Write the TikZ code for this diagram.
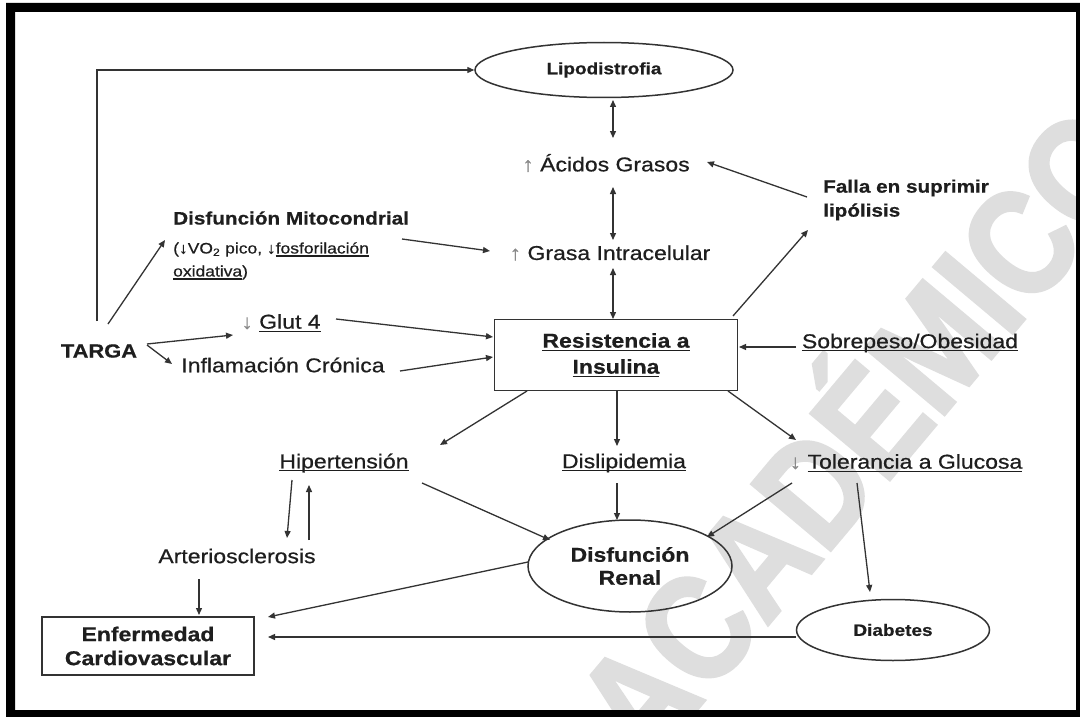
\documentclass[tikz,border=0pt]{standalone}
\usepackage{fontspec}
\setmainfont{Liberation Sans}[FakeStretch=1.15,FakeBold=0.6]
\newfontfamily\wmfont{Liberation Sans}[FakeStretch=0.85,FakeBold=2]
\usetikzlibrary{arrows.meta,shapes.geometric}
\definecolor{txt}{HTML}{1E1E1E}
\definecolor{ln}{HTML}{333333}
\definecolor{wm}{HTML}{DEDEDE}
\definecolor{arrg}{HTML}{8A8A8A}
\newcommand\ulin[1]{\setbox0\hbox{#1}\rlap{\rule[-3.2pt]{\wd0}{1.2pt}}\box0}
\newcommand\upar{{\color{arrg}↑}}
\newcommand\dnar{{\color{arrg}↓}}
\tikzset{
  lbl/.style={text=txt,inner sep=2pt,font=\fontsize{20}{24}\selectfont},
  blbl/.style={text=txt,inner sep=2pt,font=\fontsize{20}{24}\selectfont\bfseries},
  arr/.style={draw=ln,line width=1.3pt,-{Triangle[length=7pt,width=6pt]}},
  dbl/.style={draw=ln,line width=1.3pt,{Triangle[length=7pt,width=6pt]}-{Triangle[length=7pt,width=6pt]}},
  ell/.style={ellipse,draw=ln,line width=1.5pt,inner sep=0pt,text=txt},
  boxn/.style={rectangle,draw=ln,line width=1.5pt,text=txt,inner sep=0pt}
}
\begin{document}
\begin{tikzpicture}[x=1pt,y=-1pt]
\useasboundingbox (0,0) rectangle (1080,717);
\fill[white] (0,0) rectangle (1080,717);
% watermark
\node[rotate=50,text=wm,font=\wmfont\bfseries\fontsize{150}{150}\selectfont] (wmk) at (850,425) {ACADÉMICO};
% frame
\fill[black,even odd rule] (6,3) rectangle (1080,717) (15,12) rectangle (1076,710);

% nodes
\node[ell,minimum width=258,minimum height=55,font=\fontsize{16.5}{20}\selectfont\bfseries] (lipo) at (604,70) {Lipodistrofia};
\node[lbl] (acidos) at (606,163) {\upar\ Ácidos Grasos};
\node[lbl] (grasa) at (610,253) {\upar\ Grasa Intracelular};
\node[boxn,minimum width=243,minimum height=71,align=center,font=\fontsize{20}{26}\selectfont\bfseries] (res) at (616,355) {\ulin{Resistencia a}\\\ulin{Insulina}};
\node[blbl,anchor=west,align=left,font=\fontsize{18}{24}\selectfont\bfseries] (falla) at (821,200) {Falla en suprimir\\lipólisis};
\node[blbl,anchor=west,font=\fontsize{18}{22}\selectfont\bfseries] (mito) at (171,218) {Disfunción Mitocondrial};
\node[lbl,anchor=west,align=left,font=\fontsize{15.2}{23}\selectfont] (mitosub) at (171,261) {({\color{txt}↓}VO\textsubscript{2} pico, ↓\ulin{fosforilación}\\\ulin{oxidativa})};
\node[blbl,font=\fontsize{19}{22}\selectfont\bfseries] (targa) at (99,351) {TARGA};
\node[lbl] (glut) at (281,323) {\dnar\ \ulin{Glut 4}};
\node[lbl] (infl) at (283,365) {Inflamación Crónica};
\node[lbl] (sobre) at (910,343) {\ulin{Sobrepeso/Obesidad}};
\node[lbl] (hip) at (344,463) {\ulin{Hipertensión}};
\node[lbl] (disl) at (624,463) {\ulin{Dislipidemia}};
\node[lbl] (tol) at (906,463) {\dnar\ \ulin{Tolerancia a Glucosa}};
\node[lbl] (arter) at (237,556) {Arteriosclerosis};
\node[ell,minimum width=204,minimum height=92,align=center,font=\fontsize{20}{23}\selectfont\bfseries] (renal) at (630,566) {Disfunción\\Renal};
\node[ell,minimum width=193,minimum height=61,font=\fontsize{16.5}{20}\selectfont\bfseries] (diab) at (893,630) {Diabetes};
\node[boxn,minimum width=212,minimum height=58,align=center,font=\fontsize{20}{24}\selectfont\bfseries] (enf) at (148,646) {Enfermedad\\Cardiovascular};

% connectors
\draw[arr] ([shift={(-2,-30)}]targa.center) |- (lipo.west);
\draw[arr] ([shift={(9,-27)}]targa.center) -- ([shift={(-6,-21)}]mitosub.west);
\draw[arr] ([shift={(48,-7)}]targa.center) -- ([shift={(-48,12)}]glut.center);
\draw[arr] ([shift={(48,-6)}]targa.center) -- ([shift={(-111,-1)}]infl.center);
\draw[arr] ([shift={(55,-4)}]glut.center) -- ([shift={(-123,-18)}]res.center);
\draw[arr] ([shift={(117,6)}]infl.center) -- ([shift={(-123,2)}]res.center);
\draw[arr] ([shift={(231,21)}]mito.west) -- ([shift={(-120,-2)}]grasa.center);
\draw[arr] ([shift={(-114,4)}]sobre.center) -- ([shift={(123,-8)}]res.center);
\draw[arr] ([shift={(117,-39)}]res.center) -- ([shift={(-13,30)}]falla.west);
\draw[arr] ([shift={(-14,-3)}]falla.west) -- ([shift={(101,-1)}]acidos.center);
\draw[dbl] ([shift={(9,30)}]lipo.center) -- ([shift={(7,-25)}]acidos.center);
\draw[dbl] ([shift={(7,24)}]acidos.center) -- ([shift={(3,-13)}]grasa.center);
\draw[dbl] ([shift={(3,15)}]grasa.center) -- ([shift={(-3,-36)}]res.center);
\draw[arr] ([shift={(-89,36)}]res.center) -- ([shift={(96,-18)}]hip.center);
\draw[arr] ([shift={(1,36)}]res.center) -- ([shift={(-7,-17)}]disl.center);
\draw[arr] ([shift={(112,36)}]res.center) -- ([shift={(-110,-23)}]tol.center);
\draw[arr] ([shift={(78,20)}]hip.center) -- ([shift={(-80,-26)}]renal.center);
\draw[arr] ([shift={(-7,20)}]disl.center) -- ([shift={(-13,-46)}]renal.center);
\draw[arr] ([shift={(-114,20)}]tol.center) -- ([shift={(77,-29)}]renal.center);
\draw[arr] ([shift={(-49,20)}]tol.center) -- ([shift={(-23,-38)}]diab.center);
\draw[arr] ([shift={(-97,7)}]diab.center) -- ([shift={(120,-9)}]enf.center);
\draw[arr] ([shift={(-102,-4)}]renal.center) -- ([shift={(120,-29)}]enf.center);
\draw[arr] ([shift={(-52,17)}]hip.center) -- ([shift={(50,-18)}]arter.center);
\draw[arr] ([shift={(72,-16)}]arter.center) -- ([shift={(-35,22)}]hip.center);
\draw[arr] ([shift={(-38,23)}]arter.center) -- ([shift={(51,-31)}]enf.center);
\end{tikzpicture}
\end{document}
